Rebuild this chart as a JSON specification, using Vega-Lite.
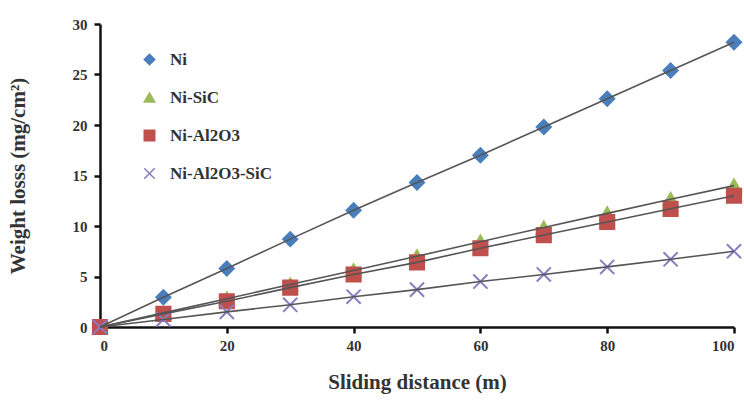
{
  "$schema": "https://vega.github.io/schema/vega-lite/v6.json",
  "width": 634,
  "height": 303,
  "autosize": {"type": "none"},
  "padding": {"left": 100, "top": 24, "right": 10, "bottom": 79},
  "background": "white",
  "config": {
    "view": {"stroke": null},
    "font": "Liberation Serif",
    "axis": {"grid": false, "domainColor": "#111", "domainWidth": 2.5, "tickColor": "#111", "tickWidth": 2.5, "labelFont": "Liberation Serif", "labelFontWeight": "bold", "labelFontSize": 15, "labelColor": "#333", "titleFont": "Liberation Serif", "titleFontWeight": "bold", "titleFontSize": 21, "titleColor": "#333"}
  },
  "data": {
    "values": [
      {"d": 0, "w": 0, "s": "Ni"}, {"d": 10, "w": 2.95, "s": "Ni"}, {"d": 20, "w": 5.8, "s": "Ni"}, {"d": 30, "w": 8.7, "s": "Ni"}, {"d": 40, "w": 11.55, "s": "Ni"}, {"d": 50, "w": 14.3, "s": "Ni"}, {"d": 60, "w": 17.0, "s": "Ni"}, {"d": 70, "w": 19.8, "s": "Ni"}, {"d": 80, "w": 22.6, "s": "Ni"}, {"d": 90, "w": 25.4, "s": "Ni"}, {"d": 100, "w": 28.2, "s": "Ni"},
      {"d": 0, "w": 0, "s": "Ni-SiC"}, {"d": 10, "w": 1.4, "s": "Ni-SiC"}, {"d": 20, "w": 2.8, "s": "Ni-SiC"}, {"d": 30, "w": 4.2, "s": "Ni-SiC"}, {"d": 40, "w": 5.6, "s": "Ni-SiC"}, {"d": 50, "w": 7.0, "s": "Ni-SiC"}, {"d": 60, "w": 8.45, "s": "Ni-SiC"}, {"d": 70, "w": 9.85, "s": "Ni-SiC"}, {"d": 80, "w": 11.25, "s": "Ni-SiC"}, {"d": 90, "w": 12.65, "s": "Ni-SiC"}, {"d": 100, "w": 14.0, "s": "Ni-SiC"},
      {"d": 0, "w": 0, "s": "Ni-Al2O3"}, {"d": 10, "w": 1.3, "s": "Ni-Al2O3"}, {"d": 20, "w": 2.55, "s": "Ni-Al2O3"}, {"d": 30, "w": 3.9, "s": "Ni-Al2O3"}, {"d": 40, "w": 5.2, "s": "Ni-Al2O3"}, {"d": 50, "w": 6.4, "s": "Ni-Al2O3"}, {"d": 60, "w": 7.8, "s": "Ni-Al2O3"}, {"d": 70, "w": 9.1, "s": "Ni-Al2O3"}, {"d": 80, "w": 10.4, "s": "Ni-Al2O3"}, {"d": 90, "w": 11.7, "s": "Ni-Al2O3"}, {"d": 100, "w": 13.0, "s": "Ni-Al2O3"},
      {"d": 0, "w": 0, "s": "Ni-Al2O3-SiC"}, {"d": 10, "w": 0.75, "s": "Ni-Al2O3-SiC"}, {"d": 20, "w": 1.5, "s": "Ni-Al2O3-SiC"}, {"d": 30, "w": 2.2, "s": "Ni-Al2O3-SiC"}, {"d": 40, "w": 3.0, "s": "Ni-Al2O3-SiC"}, {"d": 50, "w": 3.7, "s": "Ni-Al2O3-SiC"}, {"d": 60, "w": 4.5, "s": "Ni-Al2O3-SiC"}, {"d": 70, "w": 5.2, "s": "Ni-Al2O3-SiC"}, {"d": 80, "w": 5.95, "s": "Ni-Al2O3-SiC"}, {"d": 90, "w": 6.7, "s": "Ni-Al2O3-SiC"}, {"d": 100, "w": 7.5, "s": "Ni-Al2O3-SiC"}
    ]
  },
  "encoding": {
    "x": {"field": "d", "type": "quantitative", "scale": {"domain": [0, 100], "nice": false}, "axis": {"values": [0, 20, 40, 60, 80, 100], "title": "Sliding distance (m)", "tickSize": 6, "labelPadding": 5, "titlePadding": 18}},
    "y": {"field": "w", "type": "quantitative", "scale": {"domain": [0, 30], "nice": false}, "axis": {"values": [0, 5, 10, 15, 20, 25, 30], "title": "Weight losss (mg/cm²)", "tickSize": 6, "labelPadding": 7, "titlePadding": 44}}
  },
  "layer": [
    {
      "mark": {"type": "point", "filled": true, "opacity": 1, "strokeWidth": 2},
      "encoding": {
        "color": {"field": "s", "type": "nominal", "scale": {"domain": ["Ni", "Ni-SiC", "Ni-Al2O3", "Ni-Al2O3-SiC"], "range": ["#4a7ebb", "#9bbb59", "#c0504d", "#8a7cc0"]}, "legend": {"title": null, "orient": "none", "legendX": 41, "legendY": 27, "rowPadding": 20, "labelFont": "Liberation Serif", "labelFontWeight": "bold", "labelFontSize": 17, "labelColor": "#333", "symbolSize": 110, "labelOffset": 12}},
        "stroke": {"field": "s", "type": "nominal", "scale": {"domain": ["Ni", "Ni-SiC", "Ni-Al2O3", "Ni-Al2O3-SiC"], "range": ["#4a7ebb", "#9bbb59", "#c0504d", "#8a7cc0"]}},
        "shape": {"field": "s", "type": "nominal", "scale": {"domain": ["Ni", "Ni-SiC", "Ni-Al2O3", "Ni-Al2O3-SiC"], "range": ["diamond", "triangle-up", "square", "M-1,-1L1,1M-1,1L1,-1"]}},
        "size": {"value": 200}
      }
    },
    {
      "mark": {"type": "line", "color": "#555", "strokeWidth": 1.6},
      "encoding": {"detail": {"field": "s", "type": "nominal"}}
    }
  ]
}
